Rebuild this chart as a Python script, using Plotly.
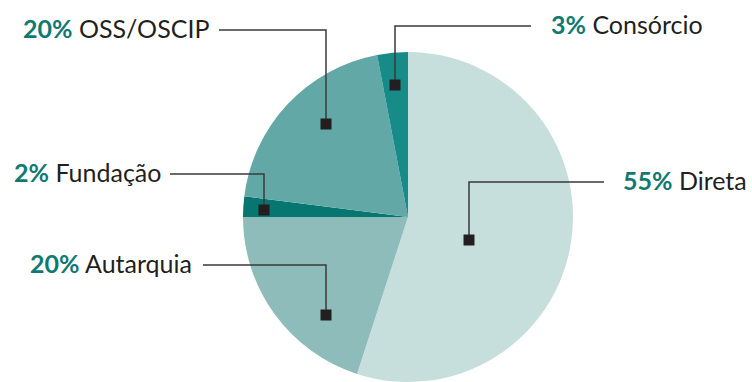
import plotly.graph_objects as go

# Shares by management model (percent)
categories = ["Direta", "Autarquia", "Fundação", "OSS/OSCIP", "Consórcio"]
shares = [55, 20, 2, 20, 3]
slice_colors = ["#c7dfdc", "#8dbcba", "#077570", "#62a8a6", "#178b88"]

W, H = 752, 382
PCT_COLOR = "#0f7a72"
TEXT_COLOR = "#231f20"
LINE_COLOR = "#3a3a3a"
FONT = "Lato, 'Open Sans', sans-serif"

# pie placement in pixels
cx, cy, r = 408, 217, 165


def px(x):
    return x / W


def py(y):
    return 1 - y / H


fig = go.Figure(
    go.Pie(
        labels=categories,
        values=shares,
        sort=False,
        direction="clockwise",
        rotation=0,
        marker=dict(colors=slice_colors, line=dict(width=0)),
        textinfo="none",
        hoverinfo="label+percent",
        domain=dict(x=[px(cx - r), px(cx + r)], y=[py(cy + r), py(cy - r)]),
        showlegend=False,
    )
)

# callouts: (label index, square centre, elbow point, line end, text x, anchor)
callouts = [
    (4, (395, 85), (395, 26), (531, 26), 549, "left"),
    (3, (326, 124), (326, 30), (219, 30), 211, "right"),
    (2, (264, 210), (264, 174), (170, 174), 163, "right"),
    (1, (326, 315), (326, 265), (203, 265), 194, "right"),
    (0, (469, 240), (469, 182), (604, 182), 621, "left"),
]

shapes = []
annotations = []
for idx, (sx, sy), (ex, ey), (lx, ly), tx, anchor in callouts:
    shapes.append(
        dict(
            type="path",
            xref="paper",
            yref="paper",
            path=f"M {px(sx)} {py(sy)} L {px(ex)} {py(ey)} L {px(lx)} {py(ly)}",
            line=dict(color=LINE_COLOR, width=1.5),
        )
    )
    s = 5.5
    shapes.append(
        dict(
            type="rect",
            xref="paper",
            yref="paper",
            x0=px(sx - s),
            x1=px(sx + s),
            y0=py(sy + s),
            y1=py(sy - s),
            fillcolor=TEXT_COLOR,
            line=dict(width=0),
        )
    )
    annotations.append(
        dict(
            xref="paper",
            yref="paper",
            x=px(tx),
            y=py(ly - 2),
            xanchor=anchor,
            yanchor="middle",
            showarrow=False,
            text=f"<b><span style='color:{PCT_COLOR}'>{shares[idx]}%</span></b> {categories[idx]}",
            font=dict(family=FONT, size=25, color=TEXT_COLOR),
        )
    )

fig.update_layout(
    width=W,
    height=H,
    margin=dict(l=0, r=0, t=0, b=0),
    paper_bgcolor="white",
    plot_bgcolor="white",
    shapes=shapes,
    annotations=annotations,
)

fig.write_html("out.html")
